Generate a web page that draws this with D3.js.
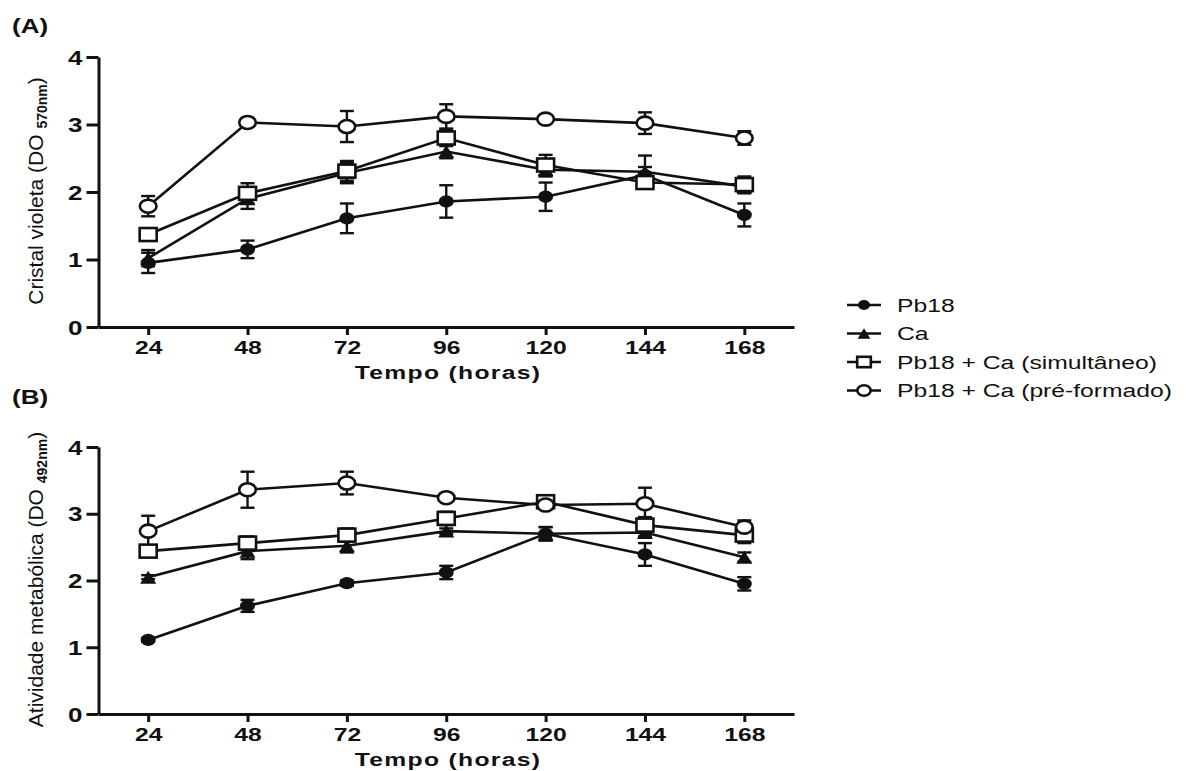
<!DOCTYPE html>
<html>
<head>
<meta charset="utf-8">
<script src="https://cdn.jsdelivr.net/npm/d3@7"></script>
<style>
  body { margin: 0; background: #fff; }
  svg { display: block; }
  .tick text { font-family: "Liberation Sans", Arial, sans-serif; font-weight: bold; fill: #111; }
  .axis path, .axis line { stroke: #111; stroke-width: 3; }
</style>
</head>
<body>
<div id="chart"></div>
<script>
"use strict";

const hours = [24, 48, 72, 96, 120, 144, 168];
const seriesNames = ["Pb18", "Ca", "Pb18 + Ca (simultâneo)", "Pb18 + Ca (pré-formado)"];
const markers = ["circleFilled", "triangle", "square", "circleOpen"];

// painel A - cristal violeta
const aPb18 = [0.95, 1.15, 1.61, 1.86, 1.93, 2.25, 1.66];
const aCa = [1.02, 1.90, 2.28, 2.60, 2.33, 2.30, 2.08];
const aSim = [1.37, 1.98, 2.31, 2.80, 2.40, 2.14, 2.11];
const aPre = [1.79, 3.03, 2.97, 3.12, 3.08, 3.02, 2.80];
const aPb18Err = [0.15, 0.13, 0.22, 0.24, 0.21, 0.12, 0.17];
const aCaErr = [0.12, 0.15, 0.15, 0.10, 0.10, 0.24, 0.10];
const aSimErr = [0.05, 0.15, 0.15, 0.12, 0.15, 0.06, 0.12];
const aPreErr = [0.15, 0.04, 0.23, 0.18, 0.05, 0.16, 0.10];

// painel B - atividade metabolica
const bPb18 = [1.11, 1.62, 1.96, 2.12, 2.70, 2.39, 1.95];
const bCa = [2.05, 2.44, 2.52, 2.74, 2.70, 2.72, 2.35];
const bSim = [2.44, 2.56, 2.68, 2.93, 3.18, 2.83, 2.68];
const bPre = [2.74, 3.36, 3.46, 3.24, 3.13, 3.15, 2.80];
const bPb18Err = [0.03, 0.09, 0.04, 0.10, 0.10, 0.17, 0.10];
const bCaErr = [0.03, 0.12, 0.10, 0.04, 0.10, 0.06, 0.07];
const bSimErr = [0.05, 0.10, 0.10, 0.10, 0.07, 0.12, 0.12];
const bPreErr = [0.23, 0.27, 0.17, 0.04, 0.05, 0.24, 0.10];

const yTicks = [0, 1, 2, 3, 4];

// the original figure is stretched sideways, so horizontal text is widened to match
const stretch = 1.3;

const svg = d3.select("#chart").append("svg")
    .attr("width", 1186)
    .attr("height", 771);

const font = '"Liberation Sans", Arial, sans-serif';

function drawMarker(g, type, cx, cy, scale) {
    const s = scale || 1;
    if (type === "circleFilled") {
        g.append("ellipse").attr("cx", cx).attr("cy", cy).attr("rx", 7.5 * s).attr("ry", 6.2 * s)
            .attr("fill", "#111");
    } else if (type === "circleOpen") {
        g.append("ellipse").attr("cx", cx).attr("cy", cy).attr("rx", 8.3 * s).attr("ry", 6.5 * s)
            .attr("fill", "#fff").attr("stroke", "#111").attr("stroke-width", 2.6);
    } else if (type === "square") {
        g.append("rect").attr("x", cx - 8.5 * s).attr("y", cy - 6.5 * s)
            .attr("width", 17 * s).attr("height", 13 * s)
            .attr("fill", "#fff").attr("stroke", "#111").attr("stroke-width", 2.6);
    } else {
        const w = 8 * s, h = 6.5 * s;
        g.append("path")
            .attr("d", "M" + (cx - w) + "," + (cy + h) + "L" + cx + "," + (cy - h) + "L" + (cx + w) + "," + (cy + h) + "Z")
            .attr("fill", "#111");
    }
}

function drawPanel(cfg) {
    const x = d3.scaleLinear().domain([12, 180]).range([98.5, 794]);
    const y = d3.scaleLinear().domain([0, 4]).range([cfg.y0, cfg.y4]);

    const g = svg.append("g");

    g.append("g")
        .attr("class", "axis")
        .attr("transform", "translate(0," + cfg.y0 + ")")
        .call(d3.axisBottom(x).tickValues(hours).tickSize(8).tickSizeOuter(0).tickPadding(6))
        .selectAll("text")
        .style("font-size", "19px")
        .attr("transform", "scale(" + stretch + ",1)");

    g.append("g")
        .attr("class", "axis")
        .attr("transform", "translate(" + x.range()[0] + ",0)")
        .call(d3.axisLeft(y).tickValues(yTicks).tickFormat(d3.format("d")).tickSize(12).tickSizeOuter(0))
        .selectAll("text")
        .style("font-size", "20px")
        .attr("x", -16 / stretch)
        .attr("dy", "0.36em")
        .attr("transform", "scale(" + stretch + ",1)");

    g.append("text")
        .attr("transform", "translate(448," + (cfg.y0 + 52) + ") scale(" + stretch + ",1)")
        .attr("text-anchor", "middle")
        .style("font-family", font)
        .style("font-weight", "bold")
        .style("font-size", "19px")
        .style("letter-spacing", "1px")
        .attr("fill", "#111")
        .text("Tempo (horas)");

    const yt = g.append("text")
        .attr("transform", "translate(43," + ((cfg.y0 + cfg.y4) / 2 - 1) + ") rotate(-90)")
        .attr("text-anchor", "middle")
        .style("font-family", font)
        .style("font-size", "21px")
        .attr("fill", "#111");
    yt.append("tspan").text(cfg.yTitle + " (DO ");
    yt.append("tspan").attr("dy", 4).style("font-size", "14px").style("font-weight", "bold").text(cfg.sub);
    yt.append("tspan").attr("dy", -4).text(")");

    g.append("text")
        .attr("transform", "translate(12," + cfg.labelY + ") scale(" + stretch + ",1)")
        .style("font-family", font)
        .style("font-weight", "bold")
        .style("font-size", "20px")
        .attr("fill", "#111")
        .text(cfg.label);

    const line = d3.line()
        .x((d, i) => x(hours[i]))
        .y((d) => y(d));

    cfg.values.forEach((vals, k) => {
        const errs = cfg.errors[k];
        const eb = g.append("g").attr("stroke", "#111").attr("stroke-width", 2.4);
        vals.forEach((v, i) => {
            const cx = x(hours[i]);
            const top = y(v + errs[i]);
            const bot = y(v - errs[i]);
            eb.append("line").attr("x1", cx).attr("x2", cx).attr("y1", top).attr("y2", bot);
            eb.append("line").attr("x1", cx - 7).attr("x2", cx + 7).attr("y1", top).attr("y2", top);
            eb.append("line").attr("x1", cx - 7).attr("x2", cx + 7).attr("y1", bot).attr("y2", bot);
        });
    });

    cfg.values.forEach((vals) => {
        g.append("path")
            .datum(vals)
            .attr("d", line)
            .attr("fill", "none")
            .attr("stroke", "#111")
            .attr("stroke-width", 2.6);
    });

    cfg.values.forEach((vals, k) => {
        const mg = g.append("g");
        vals.forEach((v, i) => drawMarker(mg, markers[k], x(hours[i]), y(v)));
    });
}

drawPanel({
    y0: 327, y4: 57, label: "(A)", labelY: 33,
    yTitle: "Cristal violeta", sub: "570nm",
    values: [aPb18, aCa, aSim, aPre],
    errors: [aPb18Err, aCaErr, aSimErr, aPreErr]
});

drawPanel({
    y0: 714, y4: 447, label: "(B)", labelY: 404,
    yTitle: "Atividade metabólica", sub: "492nm",
    values: [bPb18, bCa, bSim, bPre],
    errors: [bPb18Err, bCaErr, bSimErr, bPreErr]
});

// legenda
const legend = svg.append("g");
seriesNames.forEach((name, k) => {
    const ly = 305 + k * 28.5;
    legend.append("line")
        .attr("x1", 847).attr("x2", 881).attr("y1", ly).attr("y2", ly)
        .attr("stroke", "#111").attr("stroke-width", 2.6);
    drawMarker(legend, markers[k], 864, ly, 0.8);
    legend.append("text")
        .attr("transform", "translate(897," + ly + ") scale(" + stretch + ",1)")
        .attr("dy", "0.36em")
        .style("font-family", font)
        .style("font-size", "19px")
        .attr("fill", "#111")
        .text(name);
});
</script>
</body>
</html>
